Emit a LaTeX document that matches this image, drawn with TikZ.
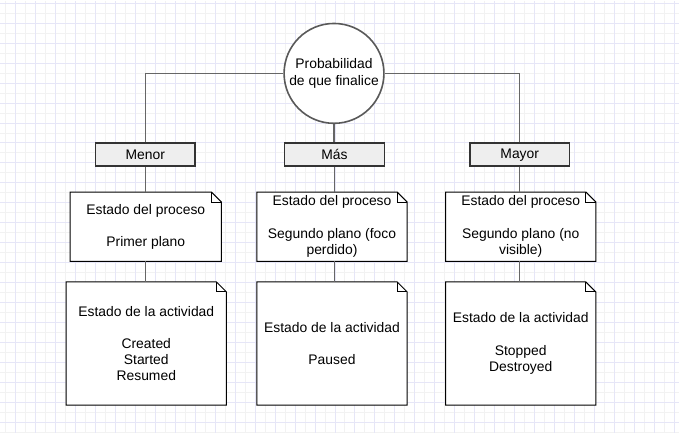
\documentclass[tikz,border=0pt]{standalone}
\usepackage{fontspec}
\setmainfont{Liberation Sans}
\pgfdeclarelayer{grid}
\pgfdeclarelayer{bg}
\pgfsetlayers{grid,bg,main}
\definecolor{gridminor}{HTML}{F2F2F2}
\definecolor{gridmajor}{HTML}{E6E6F7}
\definecolor{boxfill}{HTML}{EEEEEE}
\definecolor{edgecol}{HTML}{666666}
\definecolor{boxline}{HTML}{333333}
\newcommand\fs{\fontsize{13.9}{16.3}\selectfont}
\newcommand\noteoutline[1]{%
  \begin{pgfonlayer}{bg}
    \draw[black, line width=1pt, fill=white, line join=miter]
      (#1.north west) -- ([xshift=-10pt]#1.north east) -- ([yshift=-10pt]#1.north east)
      -- (#1.south east) -- (#1.south west) -- cycle;
    \draw[black, line width=1pt]
      ([xshift=-10pt]#1.north east) -- ([xshift=-10pt,yshift=-10pt]#1.north east) -- ([yshift=-10pt]#1.north east);
  \end{pgfonlayer}}
\begin{document}
\begin{tikzpicture}[x=1pt,y=-1pt,
  level/.style={draw=boxline, line width=1.6pt, fill=boxfill, minimum width=100pt,
    minimum height=23pt, inner sep=0pt, font=\fs},
  notebox/.style={inner sep=0pt, align=center, font=\fs},
  link/.style={draw=edgecol, line width=1.5pt}]
\begin{pgfonlayer}{grid}
  \fill[white] (0,0) rectangle (679,433);
  \foreach \x in {5,25,...,675} \draw[gridminor, line width=1pt] (\x,0) -- (\x,433);
  \foreach \y in {12.7,32.7,...,432.7} \draw[gridminor, line width=1pt] (0,\y) -- (679,\y);
  \foreach \x in {15,35,...,675} \draw[gridmajor, line width=1pt] (\x,0) -- (\x,433);
  \foreach \y in {2.7,22.7,...,432.7} \draw[gridmajor, line width=1pt] (0,\y) -- (679,\y);
\end{pgfonlayer}
\useasboundingbox (0,0) rectangle (679,433);

% circle
\node[circle, draw=black!65, line width=1.6pt, minimum size=100pt, fill=white,
  inner sep=0pt, align=center, font=\fs] (prob) at (334,73) {Probabilidad\\de que finalice};

% level boxes
\node[level] (menor) at (145,154.5) {Menor};
\node[level] (mas) at (334.5,154.5) {Más};
\node[level] (mayor) at (520,154.5) {Mayor};

% process notes
\node[notebox, minimum width=151pt, minimum height=69pt] (proc1) at (145.5,226.5)
  {Estado del proceso\\[16pt]Primer plano};
\node[notebox, minimum width=150pt, minimum height=69pt] (proc2) at (332,226.5)
  {Estado del proceso\\[16pt]Segundo plano (foco\\perdido)};
\node[notebox, minimum width=150pt, minimum height=69pt] (proc3) at (521,226.5)
  {Estado del proceso\\[16pt]Segundo plano (no\\visible)};

% activity notes
\node[notebox, minimum width=160pt, minimum height=123pt] (act1) at (146,343.5)
  {Estado de la actividad\\[16pt]Created\\Started\\Resumed};
\node[notebox, minimum width=150pt, minimum height=123pt] (act2) at (332,343.5)
  {Estado de la actividad\\[16pt]Paused};
\node[notebox, minimum width=150pt, minimum height=123pt] (act3) at (521,343.5)
  {Estado de la actividad\\[16pt]Stopped\\Destroyed};

\noteoutline{proc1}\noteoutline{proc2}\noteoutline{proc3}
\noteoutline{act1}\noteoutline{act2}\noteoutline{act3}

% connectors
\begin{pgfonlayer}{bg}
\draw[link] (prob.west) -| (menor.north);
\draw[link] (prob.east) -| (mayor.north);
\draw[link] (prob.south) -- (prob.south |- mas.north);
\draw[link] (menor.south) -- (menor.south |- proc1.north);
\draw[link] (mas.south) -- (mas.south |- proc2.north);
\draw[link] (mayor.south) -- (mayor.south |- proc3.north);
\draw[link] (proc1.south -| menor.south) -- (menor.south |- act1.north);
\draw[link] (proc2.south -| mas.south) -- (mas.south |- act2.north);
\draw[link] (proc3.south -| mayor.south) -- (mayor.south |- act3.north);
\end{pgfonlayer}
\end{tikzpicture}
\end{document}
